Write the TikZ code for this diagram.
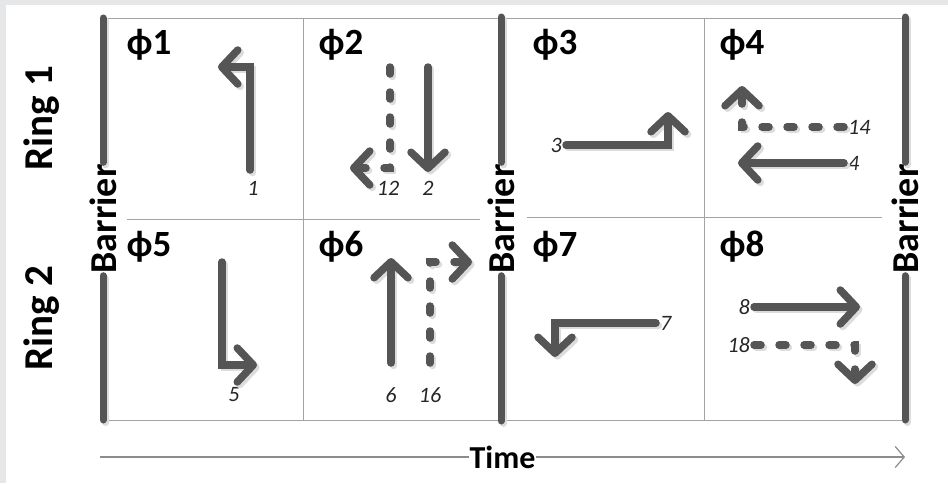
\documentclass[tikz,border=0pt]{standalone}
\usepackage{fontspec}
\setmainfont{Carlito}
\usetikzlibrary{arrows.meta}
\definecolor{movegray}{HTML}{555555}
\definecolor{shadegray}{HTML}{DCDCDC}
\definecolor{gridgray}{HTML}{A3A3A3}
\definecolor{framegray}{HTML}{E6E7E9}
\begin{document}
\begin{tikzpicture}[x=1pt, y=-1pt, style={
    phasestyle/.style={
      font=\bfseries\fontsize{37}{37}\selectfont,
      inner sep=0pt,
    },
    ringstyle/.style={
      rotate=90,
      font=\bfseries\fontsize{41}{41}\selectfont,
    },
    barrierstyle/.style={
      rotate=90, inner sep=2pt,
      font=\bfseries\fontsize{38}{38}\selectfont,
    },
    numstyle/.style={
      inner sep=4pt, text=black!85,
      font=\itshape\fontsize{22}{22}\selectfont,
    },
    barline/.style={
      preaction={draw=shadegray, line width=7pt, line cap=round,
        transform canvas={shift={(2.5pt,-2.5pt)}}},
      line width=7pt, line cap=round, draw=movegray,
    },
    gridline/.style={line width=1pt, draw=gridgray},
    movearrow/.style={
      preaction={draw=shadegray, line width=7.5pt, line cap=round,
        transform canvas={shift={(2.5pt,-2.5pt)}}},
      line width=7.5pt, line cap=round, line join=miter, draw=movegray,
      -{Straight Barb[length=16pt, width=34pt, round]},
    },
    permarrow/.style={
      preaction={draw=shadegray, line width=7.5pt, line cap=round,
        dash pattern=on 7pt off 18pt,
        transform canvas={shift={(2.5pt,-2.5pt)}}},
      line width=7.5pt, line cap=round, draw=movegray,
      dash pattern=on 7pt off 18pt,
      -{Straight Barb[length=16pt, width=34pt, round]},
    },
    timeline/.style={line width=1.2pt, draw=black!45,
      -{Straight Barb[length=9pt, width=21pt]}},
  }]
  % frame
  \fill[framegray] (0,0) rectangle (948,483);
  \fill[white] (6,5) rectangle (948,483);

  % grid
  \draw[gridline] (103,18) -- (905,18);
  \draw[gridline] (103,420) -- (905,420);
  \draw[gridline] (303,18) -- (303,420);
  \draw[gridline] (704,18) -- (704,420);
  \draw[gridline] (127,219) -- (480,219);
  \draw[gridline] (527,217) -- (882,217);

  % rings and phases
  \draw[]
    node[ringstyle] (ring1) at (42,118) {Ring 1}
    node[ringstyle] (ring2) at (42,318) {Ring 2}
    node[phasestyle] (phi1) at (149,45) {ϕ1}
    node[phasestyle] (phi2) at (341,45) {ϕ2}
    node[phasestyle] (phi3) at (555,45) {ϕ3}
    node[phasestyle] (phi4) at (742,45) {ϕ4}
    node[phasestyle] (phi5) at (149,247) {ϕ5}
    node[phasestyle] (phi6) at (341,247) {ϕ6}
    node[phasestyle] (phi7) at (555,247) {ϕ7}
    node[phasestyle] (phi8) at (742,247) {ϕ8}
  ;

  % barriers
  \node[barrierstyle] (bar1) at (103,219) {Barrier};
  \node[barrierstyle] (bar2) at (501,219) {Barrier};
  \node[barrierstyle] (bar3) at (905,219) {Barrier};
  \coordinate (bar1top) at (103,18);
  \coordinate (bar1bot) at (103,420);
  \coordinate (bar2top) at (501,17);
  \coordinate (bar2bot) at (501,421);
  \coordinate (bar3top) at (905,17);
  \coordinate (bar3bot) at (905,420);
  \draw[barline] (bar1top) -- (bar1.east);
  \draw[barline] (bar1.west) -- (bar1bot);
  \draw[barline] (bar2top) -- (bar2.east);
  \draw[barline] (bar2.west) -- (bar2bot);
  \draw[barline] (bar3top) -- (bar3.east);
  \draw[barline] (bar3.west) -- (bar3bot);

  % movement numbers
  \draw[]
    node[numstyle] (m1) at (253,188) {1}
    node[numstyle] (m12) at (388,188) {12}
    node[numstyle] (m2) at (428,188) {2}
    node[numstyle, anchor=east] (m3) at (566,145) {3}
    node[numstyle, anchor=west] (m4) at (844,163) {4}
    node[numstyle, anchor=west] (m14) at (844,127) {14}
    node[numstyle] (m5) at (234,395) {5}
    node[numstyle] (m6) at (391,395) {6}
    node[numstyle] (m16) at (430,395) {16}
    node[numstyle, anchor=west] (m7) at (656,323) {7}
    node[numstyle, anchor=east] (m8) at (754,307) {8}
    node[numstyle, anchor=east] (m18) at (754,345) {18}
  ;

  % ring 1 movements
  \coordinate (s1) at (250,170);
  \coordinate (e1) at (218,67);
  \coordinate (s12) at (390,67);
  \coordinate (e12) at (350,168);
  \coordinate (s2) at (428,67);
  \coordinate (e2) at (428,172);
  \coordinate (e3) at (668,112);
  \coordinate (e4) at (738,163);
  \coordinate (e14) at (742,86);
  \draw[movearrow] (s1) |- (e1);
  \draw[permarrow] (s12) |- (e12);
  \draw[movearrow] (s2) -- (e2);
  \draw[movearrow] (m3.east) -| (e3);
  \draw[movearrow] (m4.west) -- (e4);
  \draw[permarrow] (m14.west) -| (e14);

  % ring 2 movements
  \coordinate (s5) at (222,262);
  \coordinate (e5) at (257,365);
  \coordinate (s6) at (391,363);
  \coordinate (e6) at (391,258);
  \coordinate (s16) at (430,363);
  \coordinate (e16) at (472,262);
  \coordinate (e7) at (555,357);
  \coordinate (e8) at (860,307);
  \coordinate (e18) at (855,384);
  \draw[movearrow] (s5) |- (e5);
  \draw[movearrow] (s6) -- (e6);
  \draw[permarrow] (s16) |- (e16);
  \draw[movearrow] (m7.west) -| (e7);
  \draw[movearrow] (m8.east) -- (e8);
  \draw[permarrow] (m18.east) -| (e18);

  % time axis
  \coordinate (tstart) at (100,457);
  \coordinate (tend) at (905,457);
  \draw[timeline] (tstart) -- (tend)
    node[midway, fill=white, inner sep=1pt, text=black,
      font=\bfseries\fontsize{32}{32}\selectfont] (time) {Time};
\end{tikzpicture}
\end{document}
